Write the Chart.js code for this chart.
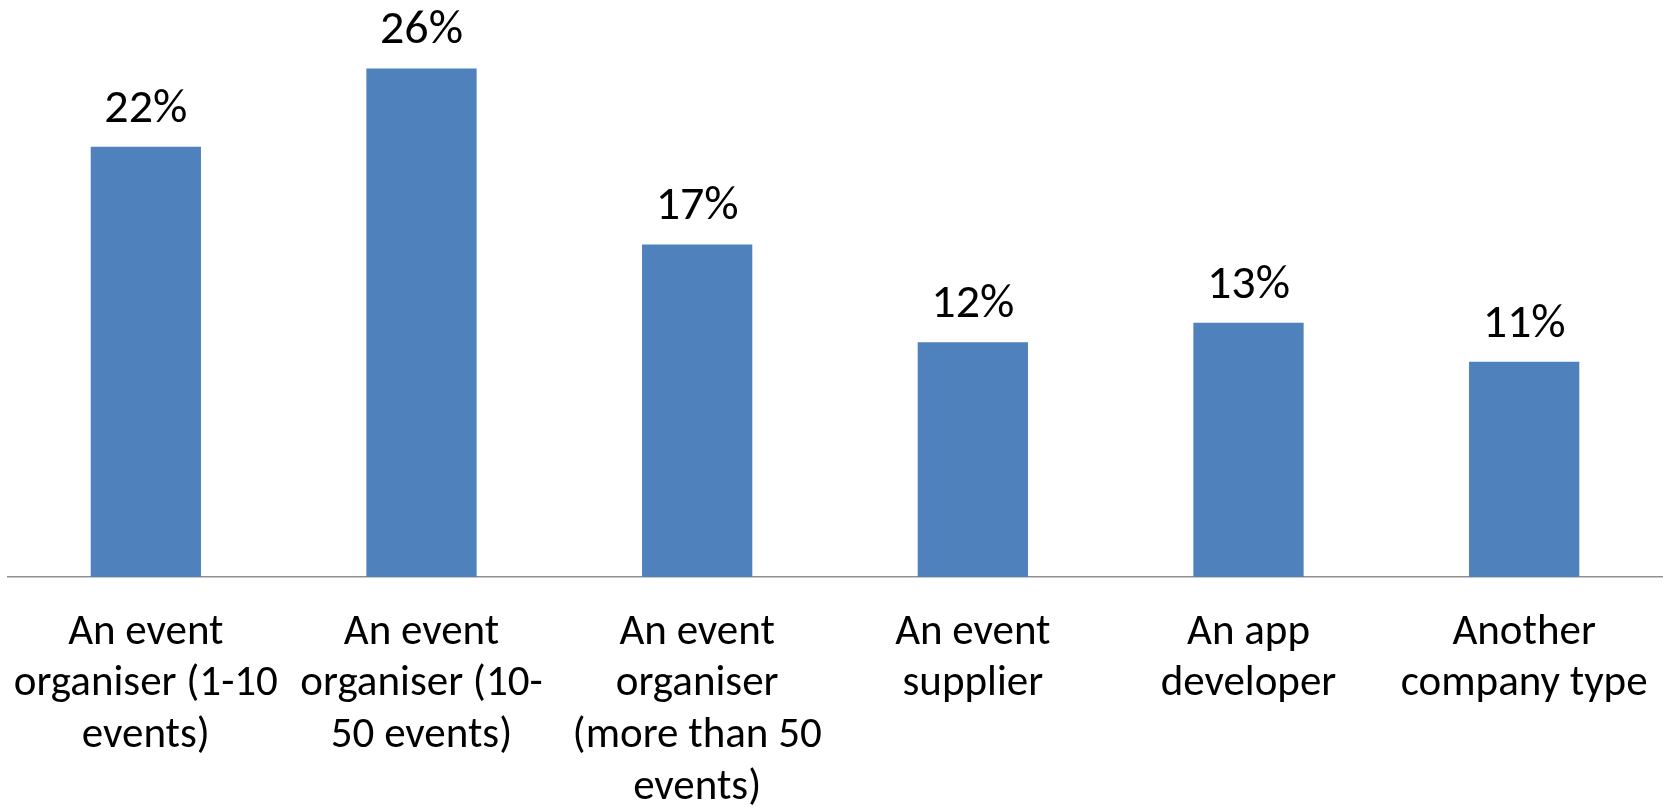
<!DOCTYPE html>
<html>
<head>
<meta charset="utf-8">
<title>Company types</title>
<script src="https://cdn.jsdelivr.net/npm/chart.js@4"></script>
<style>
  html, body { margin: 0; padding: 0; background: #fff; }
  #wrap { width: 1669px; height: 809px; position: relative; }
</style>
</head>
<body>
<div id="wrap"><canvas id="myChart"></canvas></div>
<script>
// categories, already broken into lines the way they wrap under the bars
const categories = [
  ['An event', 'organiser (1-10', 'events)'],
  ['An event', 'organiser (10-', '50 events)'],
  ['An event', 'organiser', '(more than 50', 'events)'],
  ['An event', 'supplier'],
  ['An app', 'developer'],
  ['Another', 'company type']
];
// share of respondents, %
const shares = [22, 26, 17, 12, 13, 11];

const FONT = "Carlito, Calibri, 'Liberation Sans Narrow', 'DejaVu Sans Condensed', sans-serif";

// percent labels above every bar
const valueLabels = {
  id: 'valueLabels',
  afterDatasetsDraw(chart) {
    const ctx = chart.ctx;
    const meta = chart.getDatasetMeta(0);
    ctx.save();
    ctx.font = '48px ' + FONT;
    ctx.fillStyle = '#000';
    ctx.textAlign = 'center';
    ctx.textBaseline = 'alphabetic';
    meta.data.forEach((bar, i) => {
      ctx.fillText(shares[i] + '%', bar.x, bar.y - 25);
    });
    ctx.restore();
  }
};

let ctx = document.getElementById('myChart').getContext('2d');
let chart = new Chart(ctx, {
  type: 'bar',
  data: {
    labels: categories,
    datasets: [{
      data: shares,
      backgroundColor: '#4f81bd',
      borderWidth: 0,
      categoryPercentage: 1,
      barPercentage: 0.4
    }]
  },
  options: {
    responsive: true,
    maintainAspectRatio: false,
    animation: false,
    layout: { padding: { left: 8, right: 7, top: 0, bottom: 0 } },
    plugins: {
      legend: { display: false },
      tooltip: { enabled: false }
    },
    scales: {
      y: {
        display: false,
        min: 0,
        max: 29.5
      },
      x: {
        grid: { display: false, drawTicks: false },
        border: { display: true, color: '#8f8f8f', width: 1.5 },
        ticks: {
          color: '#000',
          autoSkip: false,
          maxRotation: 0,
          minRotation: 0,
          padding: 30,
          font: { family: FONT, size: 43, lineHeight: 51.7 / 43 }
        },
        // fixed height, and let the long labels hang past the plot edges
        afterFit(scale) {
          scale.height = 232;
          scale.paddingLeft = 0;
          scale.paddingRight = 0;
        }
      }
    }
  },
  plugins: [valueLabels]
});
</script>
</body>
</html>
